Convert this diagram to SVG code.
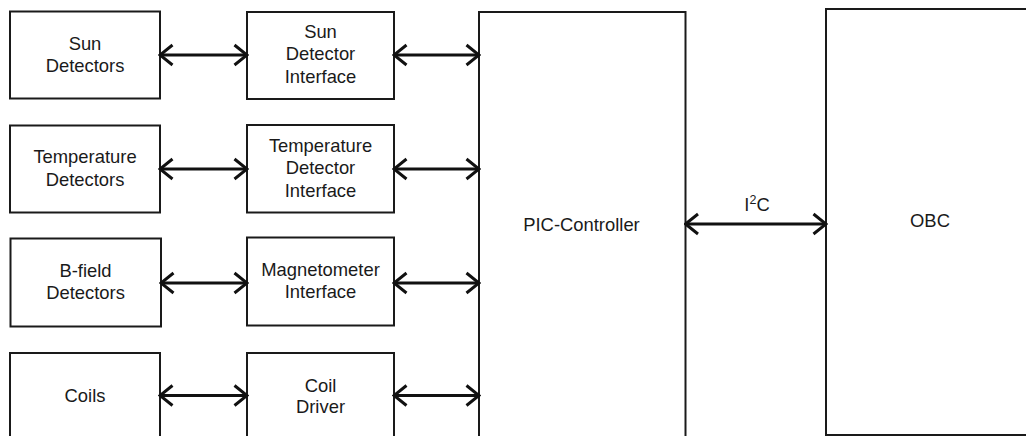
<svg xmlns="http://www.w3.org/2000/svg" width="1026" height="436" viewBox="0 0 1026 436">
<style>
.box{fill:#fff;stroke:#1a1a1a;stroke-width:2}
.lbl{font-family:"Liberation Sans",Arial,sans-serif;font-size:18.4px;fill:#1a1a1a;text-anchor:middle}
.con{stroke:#111;stroke-width:3;fill:none;marker-start:url(#chev);marker-end:url(#chev)}
</style>
<defs>
<marker id="chev" viewBox="0 0 16 24" refX="14" refY="12" markerWidth="16" markerHeight="24" markerUnits="userSpaceOnUse" orient="auto-start-reverse">
<path d="M1.5,2 L14,12 L1.5,22" fill="none" stroke="#111" stroke-width="3"/>
</marker>
</defs>
<rect width="1026" height="436" fill="#fff"/>
<g id="sun-detectors"><rect class="box" x="10" y="11.5" width="150" height="87"/><text class="lbl" x="85" y="50">Sun</text><text class="lbl" x="85" y="72">Detectors</text></g>
<g id="sun-detector-interface"><rect class="box" x="247" y="12" width="147" height="87"/><text class="lbl" x="320.5" y="37.5">Sun</text><text class="lbl" x="320.5" y="60">Detector</text><text class="lbl" x="320.5" y="82.5">Interface</text></g>
<g id="temperature-detectors"><rect class="box" x="10" y="125.5" width="150" height="87"/><text class="lbl" x="85" y="163">Temperature</text><text class="lbl" x="85" y="185.5">Detectors</text></g>
<g id="temperature-detector-interface"><rect class="box" x="247" y="125" width="147" height="87.5"/><text class="lbl" x="320.5" y="151.7">Temperature</text><text class="lbl" x="320.5" y="174">Detector</text><text class="lbl" x="320.5" y="196.5">Interface</text></g>
<g id="bfield-detectors"><rect class="box" x="10.5" y="238.5" width="150.5" height="88"/><text class="lbl" x="85.5" y="276.7">B-field</text><text class="lbl" x="85.5" y="298.5">Detectors</text></g>
<g id="magnetometer-interface"><rect class="box" x="247" y="237.5" width="147" height="88"/><text class="lbl" x="320.5" y="276">Magnetometer</text><text class="lbl" x="320.5" y="298">Interface</text></g>
<g id="coils"><rect class="box" x="10" y="353" width="150" height="100"/><text class="lbl" x="85" y="402.3">Coils</text></g>
<g id="coil-driver"><rect class="box" x="247" y="353" width="147" height="100"/><text class="lbl" x="320.5" y="391.7">Coil</text><text class="lbl" x="320.5" y="413">Driver</text></g>
<g id="pic-controller"><rect class="box" x="479" y="12" width="206.5" height="440"/><text class="lbl" x="581.5" y="231">PIC-Controller</text></g>
<g id="obc"><rect class="box" x="826" y="9" width="220" height="426"/><text class="lbl" x="930" y="227.3">OBC</text></g>
<g id="connectors">
<line class="con" x1="160" y1="55" x2="247" y2="55"/>
<line class="con" x1="394" y1="55" x2="479" y2="55"/>
<line class="con" x1="160" y1="169" x2="247" y2="169"/>
<line class="con" x1="394" y1="169" x2="479" y2="169"/>
<line class="con" x1="161" y1="283" x2="247" y2="283"/>
<line class="con" x1="394" y1="283" x2="479" y2="283"/>
<line class="con" x1="160" y1="395.5" x2="247" y2="395.5"/>
<line class="con" x1="394" y1="395.5" x2="479" y2="395.5"/>
<line class="con" x1="685.5" y1="224" x2="826" y2="224"/>
<text class="lbl" x="757" y="211">I<tspan font-size="12.5" dy="-7">2</tspan><tspan dy="7">C</tspan></text>
</g>
</svg>
